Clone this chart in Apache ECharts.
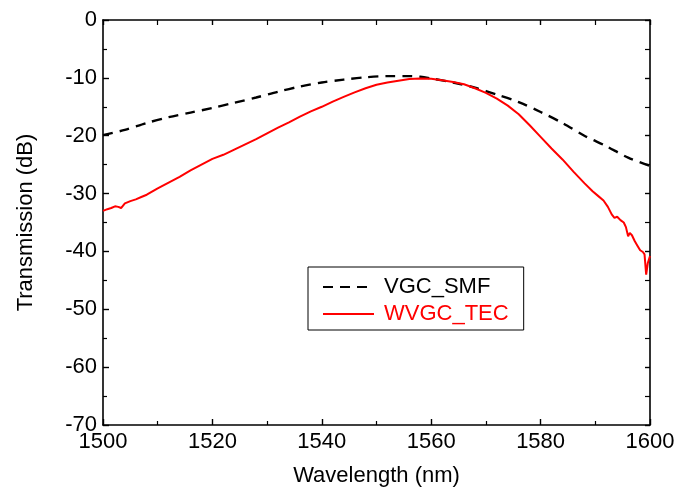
<!DOCTYPE html>
<html>
<head>
<meta charset="utf-8">
<script src="https://cdn.jsdelivr.net/npm/echarts@6/dist/echarts.min.js"></script>
<style>html,body{margin:0;padding:0;background:#fff}#c{width:678px;height:497px}</style>
</head>
<body>
<div id="c"></div>
<script>
var smfX = [1500,1504,1508,1512,1516,1520,1524,1528,1532,1536,1540,1544,1548,1552,1556,1558,1560,1564,1568,1572,1576,1580,1584,1588,1592,1596,1600];
var smfY = [-19.9,-19.0,-17.8,-16.8,-16.0,-15.2,-14.3,-13.4,-12.4,-11.5,-10.8,-10.3,-9.9,-9.7,-9.7,-9.8,-10.1,-10.8,-11.7,-12.9,-14.2,-15.9,-17.8,-20.0,-21.8,-23.8,-25.2];
var tecX = [1500,1500.8,1501.5,1502.2,1502.8,1503.3,1504,1505,1506,1507,1508,1510,1512,1514,1516,1518,1520,1522,1524,1526,1528,1530,1532,1534,1536,1538,1540,1542,1544,1546,1548,1550,1552,1554,1556,1558,1560,1562,1564,1566,1568,1570,1572,1574,1576,1578,1580,1582,1584,1586,1588,1589.5,1590.5,1591.5,1592.3,1593,1593.5,1594,1594.6,1595.2,1595.6,1596,1596.3,1596.7,1597.2,1597.7,1598.2,1598.7,1599.0,1599.3,1599.6,1600];
var tecY = [-33.0,-32.7,-32.5,-32.2,-32.3,-32.5,-31.7,-31.3,-31.0,-30.6,-30.2,-29.1,-28.1,-27.1,-26.0,-25.0,-24.0,-23.3,-22.4,-21.5,-20.6,-19.6,-18.6,-17.7,-16.7,-15.8,-15.0,-14.1,-13.3,-12.5,-11.8,-11.2,-10.8,-10.5,-10.2,-10.1,-10.15,-10.4,-10.7,-11.1,-11.8,-12.6,-13.6,-14.8,-16.3,-18.2,-20.2,-22.2,-24.1,-26.2,-28.2,-29.6,-30.4,-31.2,-32.3,-33.6,-34.2,-34.0,-34.6,-35.0,-35.8,-37.4,-36.8,-37.2,-38.2,-39.0,-39.8,-40.1,-40.5,-44.0,-42.0,-40.8];
var seriesNames = ['VGC_SMF','WVGC_TEC'];
var xTitle = 'Wavelength (nm)';
var yTitle = 'Transmission (dB)';

function pairs(xs, ys){ return xs.map(function(x,i){ return [x, ys[i]]; }); }

var FONT = 'Liberation Sans, Arial, sans-serif';
var axisLine = {show:true, onZero:false, lineStyle:{color:'#000', width:1.6}};
var plain = function(v){ return String(v); };
var chart = echarts.init(document.getElementById('c'), null, {renderer:'canvas'});
chart.setOption({
  animation:false,
  backgroundColor:'#fff',
  grid:{left:103, right:28, top:20, bottom:72, containLabel:false},
  legend:{
    orient:'vertical', left:308, top:267,
    borderColor:'#000', borderWidth:1, padding:[9,15,5,14],
    itemWidth:51, itemHeight:14, itemGap:5,
    itemStyle:{color:'rgba(0,0,0,0)', borderWidth:0, opacity:0},
    textStyle:{fontFamily:FONT, fontSize:22, color:'#000', padding:[0,0,0,5]},
    data:[
      {name:seriesNames[0], textStyle:{color:'#000'}},
      {name:seriesNames[1], textStyle:{color:'#ff0000'}}
    ]
  },
  xAxis:[
    {type:'value', min:1500, max:1600, interval:20, position:'bottom',
     name:xTitle, nameLocation:'middle', nameGap:40,
     nameTextStyle:{fontFamily:FONT, fontSize:22, color:'#000'},
     axisLine:axisLine,
     axisTick:{show:true, inside:true, length:6, lineStyle:{color:'#000', width:1.4}},
     minorTick:{show:true, splitNumber:2, length:4, lineStyle:{color:'#000', width:1.2}},
     axisLabel:{fontFamily:FONT, fontSize:22, color:'#000', margin:6, formatter:plain},
     splitLine:{show:false}},
    {type:'value', min:1500, max:1600, interval:20, position:'top',
     axisLine:axisLine,
     axisTick:{show:true, inside:true, length:5, lineStyle:{color:'#000', width:1.4}},
     minorTick:{show:true, splitNumber:2, length:5, lineStyle:{color:'#000', width:1.2}},
     axisLabel:{show:false}, splitLine:{show:false}}
  ],
  yAxis:[
    {type:'value', min:-70, max:0, interval:10, position:'left',
     name:yTitle, nameLocation:'middle', nameGap:66, nameRotate:90,
     nameTextStyle:{fontFamily:FONT, fontSize:22, color:'#000'},
     axisLine:axisLine,
     axisTick:{show:true, inside:true, length:6, lineStyle:{color:'#000', width:1.4}},
     minorTick:{show:true, splitNumber:2, length:4, lineStyle:{color:'#000', width:1.2}},
     axisLabel:{fontFamily:FONT, fontSize:22, color:'#000', margin:6, formatter:plain},
     splitLine:{show:false}},
    {type:'value', min:-70, max:0, interval:10, position:'right',
     axisLine:axisLine,
     axisTick:{show:true, inside:true, length:5, lineStyle:{color:'#000', width:1.4}},
     minorTick:{show:true, splitNumber:2, length:5, lineStyle:{color:'#000', width:1.2}},
     axisLabel:{show:false}, splitLine:{show:false}}
  ],
  series:[
    {name:seriesNames[0], type:'line', xAxisIndex:0, yAxisIndex:0, showSymbol:false, symbol:'none',
     data:pairs(smfX, smfY), smooth:0.3,
     lineStyle:{color:'#000', width:2.4, type:[10,7]}, itemStyle:{color:'#000'}},
    {name:seriesNames[1], type:'line', xAxisIndex:0, yAxisIndex:0, showSymbol:false, symbol:'none',
     data:pairs(tecX, tecY),
     lineStyle:{color:'#ff0000', width:2}, itemStyle:{color:'#ff0000'}}
  ]
});
</script>
</body>
</html>
